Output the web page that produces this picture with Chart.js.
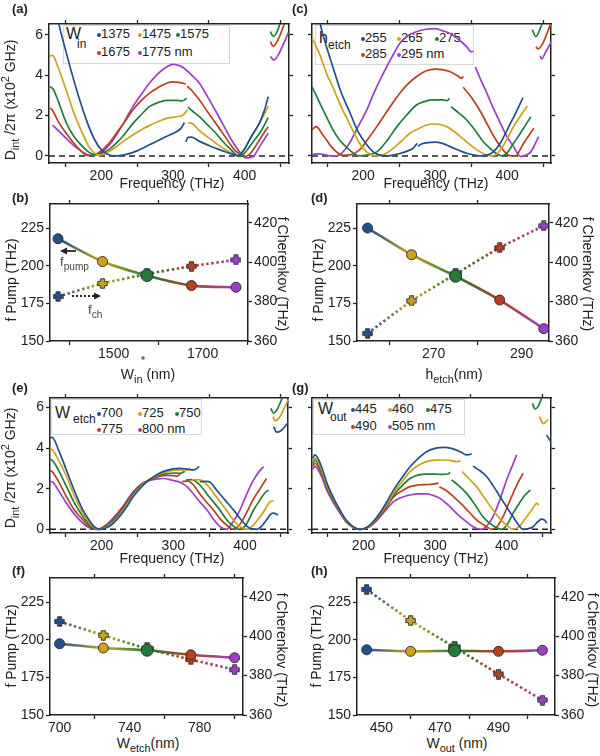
<!DOCTYPE html>
<html><head><meta charset="utf-8">
<script src="https://cdn.jsdelivr.net/npm/chart.js@4/dist/chart.umd.min.js"></script>
<style>
body{margin:0;width:600px;height:756px;background:#fff;position:relative;overflow:hidden;font-family:"Liberation Sans",Arial,sans-serif;color:#222;}
.lbl{position:absolute;font-weight:bold;font-size:13px;line-height:1;z-index:3}
.t{position:absolute;font-size:14px;white-space:nowrap;line-height:1;z-index:3}
.rotL{transform:translate(-50%,-50%) rotate(-90deg);}
.rotR{transform:translate(-50%,-50%) rotate(90deg);}
.cx{transform:translate(-50%,0);}
sub,sup{font-size:78%;line-height:0;}
.leg{position:absolute;background:#fff;border:1px solid #d8d8d8;z-index:1}
.lt{position:absolute;font-size:13px;line-height:1;white-space:nowrap;z-index:1}
.dot{position:absolute;width:4px;height:4px;border-radius:50%;z-index:1}
</style></head>
<body>
<script>
// ---------------- DATA ----------------
const FREQ_TICKS = [150,200,250,300,350,400,450];
const FREQ_LABELS = [200,300,400];
const DINT_TICKS = [0,2,4,6];
const PUMP_TICKS = [150,175,200,225];
const CHER_TICKS = [360,380,400,420];
const zeroLevel = 0;

const Win = [1375,1475,1575,1675,1775];
const hEtch = [255,265,275,285,295];
const Wetch = [700,725,750,775,800];
const Wout = [445,460,475,490,505];

const WIN_TICKS = [1400,1500,1600,1700,1800], WIN_LABELS = [1500,1700];
const H_TICKS = [260,270,280,290], H_LABELS = [270,290];
const WETCH_TICKS = [700,720,740,760,780,800], WETCH_LABELS = [700,740,780];
const WOUT_TICKS = [450,460,470,480,490,500], WOUT_LABELS = [450,470,490];

const pumpB = [217.9,202.8,193.5,186.8,185.7];
const cherB = [382.6,389.2,394.0,398.0,401.2];
const pumpD = [225.0,207.3,193.0,177.2,158.2];
const cherD = [363.8,380.4,394.0,407.4,418.5];
const pumpF = [197.3,194.5,193.0,190.0,188.0];
const cherF = [407.5,400.5,393.6,388.2,383.0];
const pumpH = [193.3,192.3,192.7,192.3,193.0];
const cherH = [423.8,408.0,394.4,380.8,367.6];

// D_int/2π curves: [frequency THz, D (x10^2 GHz)] per branch
const A_1375 = [
 [[136,7.4],[141,6.5],[150,5.25],[160,3.95],[170,2.75],[180,1.7],[190,0.85],[200,0.3],[210,0.06],[220,0.0],[232,0.05],[250,0.25],[270,0.6],[290,0.95],[305,1.2],[312,1.4],[316,1.65]],
 [[318,0.7],[321,0.92],[326,0.93],[337,0.72],[350,0.52],[360,0.38],[372,0.22],[384,0.08],[391,0.02],[400,0.35],[410,1.0],[421,1.65],[428,2.3],[433,2.93]]];
const A_1475 = [
 [[128,4.94],[132,4.98],[140,4.35],[151,3.26],[162,2.1],[174,1.1],[182,0.5],[190,0.15],[198,0.04],[210,0.2],[221,0.46],[233,0.78],[244,1.04],[256,1.3],[267,1.5],[280,1.7],[291,1.86],[305,1.94],[313,2.0],[317,2.12],[320,2.3]],
 [[321,1.62],[325,1.62],[337,1.25],[348,0.95],[360,0.63],[370,0.38],[379,0.2],[388,0.04],[396,0.15],[407,0.8],[414,1.2],[421,1.65],[428,2.1],[433,2.47]]];
const A_1575 = [
 [[128,3.43],[133,3.3],[140,2.7],[151,1.65],[162,0.95],[174,0.46],[182,0.2],[190,0.07],[198,0.1],[210,0.3],[221,0.63],[233,1.1],[244,1.6],[256,2.05],[267,2.44],[280,2.65],[291,2.75],[305,2.75],[313,2.72],[319,2.85]],
 [[321,2.42],[328,2.2],[337,1.94],[348,1.55],[360,1.12],[370,0.7],[379,0.38],[387,0.1],[393,-0.03],[400,0.15],[407,0.46],[414,0.8],[421,1.12],[428,1.55],[433,1.9]],
 [[436,6.15],[440,5.92],[444,6.05],[449,6.5],[451,6.8]]];
const A_1675 = [
 [[128,2.36],[131,2.3],[140,1.7],[151,1.12],[160,0.7],[170,0.3],[178,0.06],[185,0.02],[192,0.08],[198,0.2],[210,0.6],[221,1.12],[233,1.7],[244,2.27],[256,2.75],[267,3.1],[280,3.4],[291,3.6],[300,3.67],[310,3.63],[318,3.56]],
 [[320,3.45],[326,3.25],[337,2.77],[348,2.2],[360,1.6],[370,1.1],[379,0.63],[386,0.3],[393,0.1],[400,-0.03],[406,0.05],[412,0.3],[421,0.8],[428,1.2],[433,1.45]],
 [[436,5.65],[440,5.42],[446,5.7],[452,6.2],[457,6.7]]];
const A_1775 = [
 [[132,1.53],[140,1.25],[151,0.87],[162,0.5],[174,0.2],[184,0.03],[192,0.05],[198,0.13],[210,0.5],[221,1.04],[233,1.75],[244,2.44],[256,3.05],[267,3.6],[280,4.1],[291,4.4],[300,4.53],[308,4.48],[316,4.33],[326,4.0],[337,3.6],[348,2.95],[360,2.2],[370,1.55],[379,0.96],[386,0.55],[393,0.2],[402,-0.1],[412,-0.03],[421,0.46],[428,0.85],[433,1.12]],
 [[436,4.92],[441,4.74],[447,5.0],[455,5.6],[461,6.1]]];

const C_255 = [
 [[137,7.2],[142,6.3],[150,5.3],[158,4.4],[170,3.1],[181,2.2],[193,1.2],[205,0.55],[214,0.2],[222,0.05],[230,0.0],[240,0.03],[251,0.12],[262,0.25],[270,0.4],[275,0.62]],
 [[276,0.48],[282,0.6],[290,0.66],[300,0.68],[310,0.62],[321,0.46],[333,0.28],[344,0.13],[354,0.04],[363,0.0],[372,0.05],[381,0.2],[390,0.6],[400,1.28],[408,1.85],[414,2.27],[422,2.88]]];
const C_265 = [
 [[128,5.9],[130,5.77],[140,5.0],[149,4.1],[158,3.4],[170,2.4],[181,1.6],[195,0.63],[205,0.2],[212,0.05],[219,0.0],[230,0.08],[242,0.38],[254,0.75],[265,1.12],[277,1.35],[288,1.53],[300,1.58],[308,1.55],[316,1.45],[326,1.22],[335,0.96],[347,0.6],[358,0.3],[368,0.1],[377,0.0],[384,0.05],[391,0.3],[400,0.85],[409,1.45],[418,1.95],[428,2.47]]];
const C_275 = [
 [[129,3.43],[140,2.6],[149,1.94],[158,1.3],[167,0.8],[175,0.5],[181,0.3],[188,0.1],[195,0.0],[207,0.05],[219,0.2],[233,0.75],[247,1.45],[260,2.0],[274,2.52],[286,2.7],[298,2.77],[310,2.77],[317,2.74],[320,2.85]],
 [[322,2.44],[333,2.12],[344,1.78],[356,1.25],[367,0.7],[377,0.35],[386,0.1],[393,0.0],[400,0.15],[409,0.63],[418,1.1],[426,1.55],[433,1.94]],
 [[435,6.25],[440,5.9],[446,6.3],[449,6.6]]];
const C_285 = [
 [[129,1.3],[135,1.45],[142,1.15],[149,0.8],[156,0.45],[163,0.2],[172,0.03],[182,0.05],[195,0.3],[207,0.85],[219,1.45],[235,2.3],[251,3.1],[262,3.55],[274,3.92],[287,4.2],[300,4.3],[310,4.27],[321,4.17],[330,4.0],[337,3.84],[339,3.95]],
 [[339,3.4],[346,3.1],[353,2.77],[363,2.2],[372,1.6],[381,1.0],[391,0.46],[398,0.15],[405,0.0],[412,0.0],[418,0.3],[423,0.63],[430,1.0],[437,1.37]],
 [[440,5.4],[443,5.3],[450,5.6],[458,6.3],[461,6.6]]];
const C_295 = [
 [[129,0.05],[134,0.1],[140,0.1],[148,0.05],[156,0.0],[163,0.0],[172,0.2],[181,0.63],[193,1.45],[205,2.27],[216,3.2],[228,4.08],[240,4.9],[251,5.57],[262,5.95],[274,6.15],[287,6.27],[300,6.3],[310,6.2],[321,6.06],[333,5.75],[344,5.4],[350,5.15],[353,5.18]],
 [[356,4.4],[363,3.8],[372,3.1],[381,2.35],[391,1.6],[400,0.95],[409,0.46],[415,0.1],[419,-0.03],[426,0.03],[433,0.2],[439,0.6],[444,0.96]],
 [[446,4.95],[448,4.8],[453,5.1],[459,5.5],[462,5.7]]];

const E_700 = [
 [[128,4.5],[131,4.52],[140,3.9],[151,2.9],[162,1.9],[174,0.95],[182,0.48],[190,0.12],[198,0.0],[205,0.05],[213,0.2],[221,0.46],[233,1.0],[244,1.6],[256,2.1],[267,2.45],[280,2.75],[291,2.9],[300,2.97],[309,3.0],[318,2.97],[328,2.92],[333,3.0],[336,3.1]],
 [[337,2.34],[346,2.36],[352,2.3],[360,1.95],[372,1.45],[384,0.95],[395,0.45],[403,0.15],[409,0.02],[416,0.0],[423,0.15],[430,0.46],[436,0.75],[440,0.8],[446,0.7]],
 [[440,5.05],[444,4.78],[450,4.85],[459,5.2],[462,5.35]]];
const E_725 = [
 [[128,3.95],[131,3.92],[140,3.4],[151,2.6],[162,1.65],[174,0.8],[184,0.28],[191,0.06],[197,0.0],[205,0.08],[213,0.26],[221,0.52],[233,1.08],[244,1.66],[256,2.15],[267,2.45],[280,2.7],[291,2.84],[300,2.9],[309,2.92],[318,2.9],[323,2.98]],
 [[326,2.43],[333,2.45],[340,2.4],[347,2.2],[360,1.6],[374,0.95],[384,0.45],[393,0.13],[402,0.0],[410,0.15],[421,0.62],[428,0.98],[435,1.36],[440,1.4]],
 [[439,5.54],[442,5.33],[448,5.5],[458,6.2],[462,6.5]]];
const E_750 = [
 [[128,3.45],[131,3.4],[140,2.9],[151,2.1],[162,1.3],[174,0.62],[184,0.2],[190,0.04],[196,0.0],[205,0.12],[213,0.32],[221,0.58],[233,1.15],[244,1.72],[256,2.2],[267,2.45],[280,2.65],[291,2.74],[300,2.77],[309,2.76],[316,2.85]],
 [[318,2.43],[326,2.45],[337,2.18],[350,1.6],[365,0.95],[375,0.45],[384,0.16],[391,0.0],[400,0.15],[412,0.95],[421,1.45],[428,1.8],[433,1.93]],
 [[436,5.95],[440,5.72],[444,5.85],[449,6.2],[452,6.5]]];
const E_775 = [
 [[128,2.9],[131,2.84],[140,2.35],[151,1.6],[162,0.95],[174,0.46],[184,0.12],[190,0.02],[195,0.0],[205,0.15],[213,0.38],[221,0.66],[233,1.22],[244,1.78],[256,2.22],[267,2.42],[280,2.6],[291,2.65],[300,2.64],[306,2.62],[310,2.75]],
 [[312,2.34],[320,2.38],[328,2.18],[340,1.6],[356,0.95],[367,0.45],[377,0.13],[384,0.0],[393,0.25],[402,0.8],[412,1.5],[421,2.0],[430,2.5]]];
const E_800 = [
 [[128,2.35],[131,2.34],[140,1.9],[151,1.28],[162,0.75],[174,0.3],[184,0.05],[193,0.0],[205,0.18],[213,0.44],[221,0.75],[233,1.3],[244,1.85],[256,2.25],[267,2.4],[278,2.48],[286,2.5],[300,2.4],[310,2.3],[319,2.1],[328,1.75],[337,1.35],[347,0.95],[356,0.5],[365,0.13],[374,0.0],[383,0.35],[393,0.95],[402,1.7],[412,2.43],[420,2.85],[426,3.08]]];

const G_445 = [
 [[129,3.5],[132,3.66],[140,3.2],[149,2.26],[158,1.55],[167,0.95],[176,0.45],[186,0.12],[195,0.0],[207,0.15],[219,0.62],[230,1.2],[242,1.93],[254,2.55],[265,3.08],[277,3.5],[288,3.82],[300,3.98],[312,4.03],[323,3.98],[335,3.82],[344,3.66],[349,3.68],[351,3.74]],
 [[353,3.11],[362,2.9],[372,2.6],[381,2.15],[391,1.6],[400,1.1],[409,0.62],[416,0.25],[423,0.0],[430,0.03],[437,0.13],[443,0.35],[449,0.5],[453,0.45],[456,0.3]],
 [[456,4.64],[460,4.4],[462,4.3]]];
const G_460 = [
 [[129,3.35],[132,3.5],[140,3.05],[149,2.15],[158,1.5],[167,0.92],[176,0.42],[186,0.1],[195,0.0],[207,0.12],[219,0.58],[230,1.1],[242,1.77],[254,2.35],[265,2.84],[277,3.15],[288,3.33],[300,3.4],[312,3.41],[323,3.38],[330,3.33],[336,3.36]],
 [[338,2.84],[347,2.5],[358,2.1],[370,1.5],[381,0.95],[391,0.5],[400,0.2],[409,0.0],[418,0.15],[428,0.62],[436,1.0],[442,1.28],[445,1.2]],
 [[446,5.54],[449,5.3],[451,5.2],[455,5.3],[458,5.4]]];
const G_475 = [
 [[129,3.25],[132,3.4],[140,2.95],[149,2.08],[158,1.45],[167,0.9],[176,0.4],[186,0.1],[195,0.0],[207,0.12],[219,0.56],[230,1.05],[242,1.69],[254,2.15],[265,2.5],[277,2.68],[288,2.72],[300,2.72],[310,2.7],[318,2.72],[321,2.8]],
 [[323,2.43],[333,2.15],[344,1.77],[356,1.2],[367,0.62],[377,0.28],[386,0.08],[393,0.0],[400,0.2],[409,0.79],[418,1.3],[426,1.7],[433,1.93]],
 [[436,6.2],[440,5.92],[444,6.05],[447,6.28],[450,6.6]]];
const G_490 = [
 [[129,3.1],[132,3.25],[140,2.85],[149,2.0],[158,1.4],[167,0.85],[176,0.38],[186,0.1],[195,0.0],[207,0.1],[219,0.5],[230,1.0],[242,1.6],[254,1.9],[265,2.1],[277,2.18],[288,2.2],[297,2.22],[305,2.28]],
 [[306,2.1],[316,1.9],[326,1.6],[338,1.2],[349,0.79],[360,0.4],[372,0.13],[379,0.0],[387,0.15],[395,0.62],[402,1.2],[409,1.77],[416,2.3],[423,2.75]]];
const G_505 = [
 [[129,2.95],[132,3.1],[140,2.7],[149,1.9],[158,1.3],[167,0.8],[176,0.35],[186,0.08],[195,0.0],[207,0.1],[219,0.45],[230,0.9],[242,1.36],[254,1.58],[265,1.69],[277,1.74],[288,1.74],[298,1.66],[307,1.52],[318,1.2],[330,0.79],[341,0.45],[353,0.13],[365,0.0],[373,0.2],[381,0.62],[391,1.5],[400,2.43],[407,3.05],[414,3.66]]];

// ---------------- STYLE / LAYOUT ----------------
const COLORS = ['#1f4f8f','#cda21a','#1f7d3a','#b8401e','#9b3fc8'];
const FONT = '"Liberation Sans", Arial, sans-serif';
const INK = '#222';

function axis(pos, min, max, ticks, labels, marks, size){
  const horiz = (pos==='top'||pos==='bottom');
  return {
    type:'linear', position:pos, min, max,
    afterBuildTicks: s => { s.ticks = ticks.map(v=>({value:v})); },
    afterFit: s => { if(horiz) s.height=size; else s.width=size; },
    ticks:{autoSkip:false, maxRotation:0, minRotation:0, padding: horiz?1:2,
      font:{family:FONT,size:14}, color:INK,
      callback: v => labels.includes(v) ? String(v) : ''},
    grid:{display:true, drawOnChartArea:false, drawTicks:true, tickLength:4, tickWidth:1.3,
      tickColor: c => (c.tick && marks.includes(c.tick.value)) ? INK : 'rgba(0,0,0,0)'},
    border:{display:true, color:INK, width:1.5}
  };
}

function makeChart(box, plot, scalesFn, datasets){
  const [L,T,W,H] = box;
  const sz = {l:plot[0]-L, t:plot[1]-T, r:L+W-plot[2], b:T+H-plot[3]};
  const div = document.createElement('div');
  div.style.cssText = `position:absolute;left:${L}px;top:${T}px;width:${W}px;height:${H}px;z-index:2`;
  const c = document.createElement('canvas');
  c.width=W; c.height=H; c.style.width=W+'px'; c.style.height=H+'px';
  div.appendChild(c); document.body.appendChild(div);
  return new Chart(c, {type:'line', data:{datasets},
    options:{responsive:false, animation:false, devicePixelRatio:1, layout:{padding:0},
      plugins:{legend:{display:false}, tooltip:{enabled:false}},
      scales: scalesFn(sz)}});
}

function dPanel(box, plot, xr, yr, series, yLabels){
  const ds = [];
  series.forEach((segs,i) => segs.forEach(seg => ds.push({
    data: seg.map(p=>({x:p[0], y:p[1]})), borderColor: COLORS[i], borderWidth:1.7,
    pointRadius:0, fill:false, cubicInterpolationMode:'monotone', xAxisID:'x', yAxisID:'y'})));
  ds.push({data:[{x:xr[0],y:zeroLevel},{x:xr[1],y:zeroLevel}], borderColor:INK, borderWidth:1.5,
    borderDash:[6,4], pointRadius:0, fill:false, xAxisID:'x', yAxisID:'y'});
  const fm = FREQ_TICKS.filter(v=>!FREQ_LABELS.includes(v));
  makeChart(box, plot, sz => ({
    x: axis('bottom', xr[0], xr[1], FREQ_TICKS, FREQ_LABELS, fm, sz.b),
    x2: axis('top', xr[0], xr[1], FREQ_TICKS, [], fm, sz.t),
    y: axis('left', yr[0], yr[1], DINT_TICKS, yLabels ? DINT_TICKS : [], DINT_TICKS, sz.l),
    y2: axis('right', yr[0], yr[1], DINT_TICKS, [], DINT_TICKS, sz.r)
  }), ds);
}

function crossImg(color, s){
  const c = document.createElement('canvas'); c.width=c.height=s;
  const g = c.getContext('2d'); const a=s/2, w=s*0.19, e0=0.8, e1=s-0.8;
  g.beginPath();
  [[a-w,e0],[a+w,e0],[a+w,a-w],[e1,a-w],[e1,a+w],[a+w,a+w],[a+w,e1],[a-w,e1],[a-w,a+w],[e0,a+w],[e0,a-w],[a-w,a-w]]
    .forEach((p,i)=> i? g.lineTo(p[0],p[1]) : g.moveTo(p[0],p[1]));
  g.closePath(); g.fillStyle=color; g.fill(); g.strokeStyle='#333'; g.lineWidth=1; g.stroke();
  return c;
}
function gradSeg(c){
  const g = c.chart.ctx.createLinearGradient(c.p0.x, c.p0.y, c.p1.x, c.p1.y);
  g.addColorStop(0, COLORS[c.p0DataIndex]); g.addColorStop(1, COLORS[c.p1DataIndex]);
  return g;
}
const CROSSES = COLORS.map((col,i)=>crossImg(col, i===2?13:11));

function pPanel(box, plot, xv, pump, cher, xr, xt, xl){
  const xm = xt.filter(v=>!xl.includes(v));
  const ds = [
    {data: xv.map((v,i)=>({x:v,y:pump[i]})), yAxisID:'y', xAxisID:'x', borderWidth:2.6, tension:0.25,
     segment:{borderColor: gradSeg}, borderColor:COLORS[2],
     pointRadius: xv.map((v,i)=> i===2?6:5), pointBackgroundColor: COLORS, pointBorderColor:'#333', pointBorderWidth:1},
    {data: xv.map((v,i)=>({x:v,y:cher[i]})), yAxisID:'y2', xAxisID:'x', borderWidth:2.6, tension:0.2,
     borderDash:[2.5,2.5], segment:{borderColor: gradSeg}, borderColor:COLORS[2],
     pointStyle: CROSSES, pointRadius:6}
  ];
  makeChart(box, plot, sz => ({
    x: axis('bottom', xr[0], xr[1], xt, xl, xm, sz.b),
    x2: axis('top', xr[0], xr[1], xt, [], xm, sz.t),
    y: axis('left', 150, 241, PUMP_TICKS, PUMP_TICKS, PUMP_TICKS, sz.l),
    y2: axis('right', 360, 429.6, CHER_TICKS, CHER_TICKS, CHER_TICKS, sz.r)
  }), ds);
}

// ---------------- CHARTS ----------------
dPanel([0,10,300,175],  [49,24,289,163],  [127,462], [-0.35,6.53], [A_1375,A_1475,A_1575,A_1675,A_1775], true);
dPanel([300,10,300,175],[312,24,551,163], [129,461], [-0.35,6.53], [C_255,C_265,C_275,C_285,C_295], false);
dPanel([0,384,300,171], [50,398,288,533], [128,460], [-0.18,6.46], [E_700,E_725,E_750,E_775,E_800], true);
dPanel([300,384,300,171],[312,398,551,533],[128,462], [-0.18,6.46], [G_445,G_460,G_475,G_490,G_505], false);

pPanel([0,190,300,170],  [50,204,248,341],  Win,  pumpB, cherB, [1357,1802], WIN_TICKS, WIN_LABELS);
pPanel([300,190,300,170],[357,204,549,341], hEtch, pumpD, cherD, [252.6,296.2], H_TICKS, H_LABELS);
pPanel([0,564,300,171],  [50,578,243,715],  Wetch, pumpF, cherF, [694.5,804.8], WETCH_TICKS, WETCH_LABELS);
pPanel([300,564,300,171],[357,578,555,715], Wout, pumpH, cherH, [441.7,509.3], WOUT_TICKS, WOUT_LABELS);

// ---------------- TEXT ----------------
function addHTML(h){ document.body.insertAdjacentHTML('beforeend', h); }
function t(cls, x, y, html, extra){ addHTML(`<div class="${cls}" style="left:${x}px;top:${y}px;${extra||''}">${html}</div>`); }

// panel labels
[['(a)',12,2],['(c)',292,2],['(b)',12,191],['(d)',311,191],['(e)',12,381],['(g)',292,381],['(f)',12,564],['(h)',311,564]]
  .forEach(p=>t('lbl',p[1],p[2],p[0]));

// x titles
t('t cx',172,176,'Frequency (THz)'); t('t cx',436,176,'Frequency (THz)');
t('t cx',172,551,'Frequency (THz)'); t('t cx',436,551,'Frequency (THz)');
t('t cx',148,367,'W<sub>in</sub> (nm)'); t('t cx',454,367,'h<sub>etch</sub>(nm)');
t('t cx',148,736,'W<sub>etch</sub>(nm)'); t('t cx',457,736,'W<sub>out</sub> (nm)');
// y titles
const dTitle = 'D<sub>int</sub> /2π (x10<sup>2</sup> GHz)';
t('t rotL',10,100,dTitle); t('t rotL',10,468,dTitle);
[[11,280,283,274],[318,280,588,274],[11,646,282,650],[316,646,593,650]].forEach(p=>{
  t('t rotL',p[0],p[1],'f Pump (THz)'); t('t rotR',p[2],p[3],'f Cherenkov (THz)');
});

// legends
function legend(box, main, sub, mainPos, subPos, vals, dotX, rowY){
  addHTML(`<div class="leg" style="left:${box[0]}px;top:${box[1]}px;width:${box[2]}px;height:${box[3]}px"></div>`);
  addHTML(`<div class="lt" style="left:${mainPos[0]}px;top:${mainPos[1]}px;font-size:16px">${main}</div>`);
  addHTML(`<div class="lt" style="left:${subPos[0]}px;top:${subPos[1]}px;font-size:12px">${sub}</div>`);
  vals.forEach((v,i)=>{
    const y = rowY[i<3?0:1], x = dotX[i];
    addHTML(`<div class="dot" style="left:${x-2}px;top:${y+4}px;background:${COLORS[i]}"></div>`);
    addHTML(`<div class="lt" style="left:${x+2}px;top:${y-2}px">${v}${i===vals.length-1?' nm':''}</div>`);
  });
}
legend([63,25,165,37],'W','in',[66,26],[77,38],Win,[99,140,178,99,140],[29,47]);
legend([315,25,157,38],'h','etch',[319,30],[328,39],hEtch,[363,399,437,363,399],[33,49]);
legend([51,399,149,34],'W','etch',[55,405],[73,413],Wetch,[99,140,177,99,140],[408,424]);
legend([313,399,150,34],'W','out',[318,401],[330,411],Wout,[353,390,428,353,390],[404,421]);

// (b) annotations
t('t',60,255,'f<sub>pump</sub>','font-size:13px;color:#444');
t('t',88,303,'f<sub>ch</sub>','font-size:13px;color:#444');
addHTML(`<svg style="position:absolute;left:0;top:0;z-index:3" width="600" height="756">
<line x1="76" y1="251" x2="65" y2="251" stroke="#222" stroke-width="1.8"/>
<polygon points="60,251 67,247.5 67,254.5" fill="#222"/>
<line x1="72" y1="296" x2="95" y2="296" stroke="#222" stroke-width="2" stroke-dasharray="2,2"/>
<polygon points="101,296 94,292.5 94,299.5" fill="#222"/>
<circle cx="143" cy="358" r="1.8" fill="${COLORS[4]}"/>
</svg>`);
</script>
</body></html>
